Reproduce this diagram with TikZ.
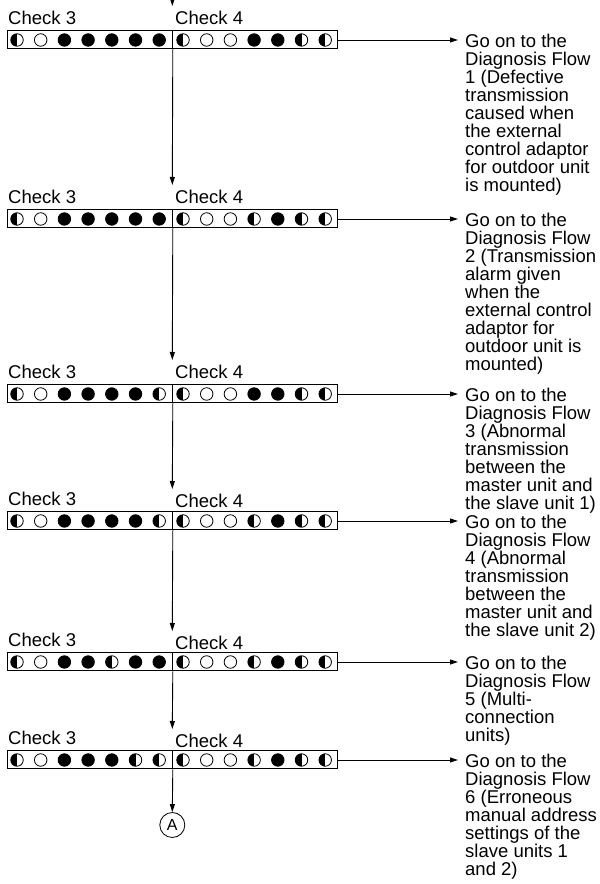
\documentclass[tikz,border=0pt]{standalone}
\usepackage{fontspec}
\setmainfont{Liberation Sans}
\usetikzlibrary{arrows.meta,positioning}
\tikzset{
  panel/.style={draw,line width=1pt,minimum width=165.3pt,minimum height=18pt,inner sep=0pt},
  led/.style={circle,draw,line width=0.8pt,minimum size=12.5pt,inner sep=0pt},
  lon/.style={led,fill=black},
  loff/.style={led,fill=white},
  lblink/.style={led,path picture={\fill[black] (path picture bounding box.south west) rectangle (path picture bounding box.north);}},
  chk/.style={font=\fontsize{18.5}{18}\selectfont,inner sep=0pt,anchor=base west},
  goto/.style={font=\fontsize{18.5}{18}\selectfont,inner sep=0pt,anchor=north west,align=left},
  arr/.style={-{Triangle[length=8pt,width=5pt]},line width=0.9pt},
}
\begin{document}
\begin{tikzpicture}[x=1pt,y=1pt]
\useasboundingbox (0,0) rectangle (600,884);
% one row per check: panel centre, Check 3 leds, Check 4 leds, drop of the Check 4 label
\foreach \r/\y/\pa/\pb/\dy in {
  1/844/{lblink,loff,lon,lon,lon,lon,lon}/{lblink,loff,loff,lon,lon,lblink,lblink}/0,
  2/665/{lblink,loff,lon,lon,lon,lon,lon}/{lblink,loff,loff,lblink,lon,lblink,lblink}/0,
  3/490/{lblink,loff,lon,lon,lon,lon,lblink}/{lblink,loff,loff,lon,lon,lblink,lblink}/0,
  4/363/{lblink,loff,lon,lon,lon,lon,lblink}/{lblink,loff,loff,lblink,lon,lblink,lblink}/2,
  5/222/{lblink,loff,lon,lon,lblink,lon,lon}/{lblink,loff,loff,lblink,lon,lblink,lblink}/3,
  6/124/{lblink,loff,lon,lon,lon,lblink,lblink}/{lblink,loff,loff,lblink,lon,lblink,lblink}/3}{
  \node[panel] (a\r) at (89.65,\y) {};
  \node[panel] (b\r) at (255,\y) {};
  \foreach \s [count=\i from 0] in \pa
    \node[\s] (a\r-\i) at ({17+23.7*\i},\y) {};
  \foreach \s [count=\i from 0] in \pb
    \node[\s] (b\r-\i) at ({183+23.7*\i},\y) {};
  \node[chk] (ta\r) at (8,\y+15) {Check 3};
  \node[chk] (tb\r) at (175,\y+15-\dy) {Check 4};
  \coordinate (in\r) at (172.3,\y+34-\dy);
  \coordinate (out\r) at (458,\y);
  \draw[arr] (b\r.east) -- (out\r);
}
\coordinate (top) at (172.3,900);
\draw[arr] (top) -- (in1);
\draw[arr] (a1.south east) -- (in2);
\draw[arr] (a2.south east) -- (in3);
\draw[arr] (a3.south east) -- (in4);
\draw[arr] (a4.south east) -- (in5);
\draw[arr] (a5.south east) -- (in6);
\node[circle,draw,line width=0.8pt,minimum size=25pt,inner sep=0pt,font=\fontsize{16}{16}\selectfont] (A) at (172.3,59) {A};
\draw[arr] (a6.south east) -- (A.north);
% where each check leads
\node[goto] (go1) at (465,850.5) {Go on to the\\Diagnosis Flow\\1 (Defective\\transmission\\caused when\\the external\\control adaptor\\for outdoor unit\\is mounted)};
\node[goto] (go2) at (465,671.5) {Go on to the\\Diagnosis Flow\\2 (Transmission\\alarm given\\when the\\external control\\adaptor for\\outdoor unit is\\mounted)};
\node[goto] (go3) at (465,496.5) {Go on to the\\Diagnosis Flow\\3 (Abnormal\\transmission\\between the\\master unit and\\the slave unit 1)};
\node[goto] (go4) at (465,369.5) {Go on to the\\Diagnosis Flow\\4 (Abnormal\\transmission\\between the\\master unit and\\the slave unit 2)};
\node[goto] (go5) at (465,228.5) {Go on to the\\Diagnosis Flow\\5 (Multi-\\connection\\units)};
\node[goto] (go6) at (465,130.5) {Go on to the\\Diagnosis Flow\\6 (Erroneous\\manual address\\settings of the\\slave units 1\\and 2)};
\end{tikzpicture}
\end{document}
